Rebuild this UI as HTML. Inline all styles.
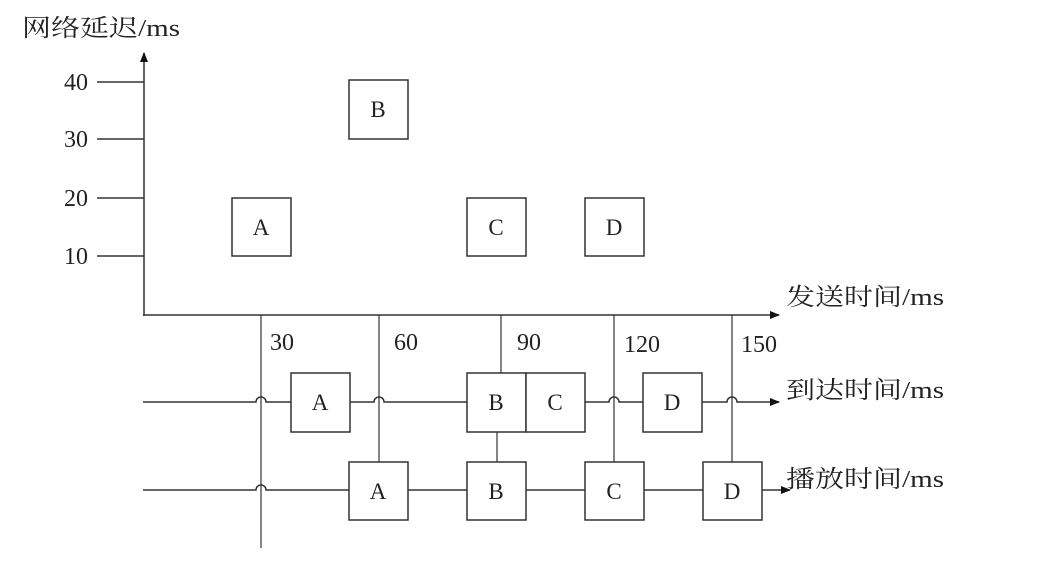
<!DOCTYPE html>
<html><head><meta charset="utf-8"><style>
html,body{margin:0;padding:0;background:#fff;}
svg{display:block}
text{font-family:"Liberation Serif","Noto Serif CJK SC","Noto Sans CJK SC",serif;fill:#222}
</style></head><body>
<svg width="1049" height="576" viewBox="0 0 1049 576" xmlns="http://www.w3.org/2000/svg">
<defs><marker id="ar" markerWidth="10" markerHeight="8" refX="9" refY="4" orient="auto" markerUnits="userSpaceOnUse"><path d="M0,0 L10,4 L0,8 z" fill="#111"/></marker></defs>
<g stroke="#333" stroke-width="1.5" fill="none">
<line x1="144" y1="316" x2="144" y2="53" marker-end="url(#ar)"/>
<line x1="97" y1="82" x2="144" y2="82"/>
<line x1="97" y1="139" x2="144" y2="139"/>
<line x1="97" y1="198" x2="144" y2="198"/>
<line x1="97" y1="256" x2="144" y2="256"/>
<line x1="143" y1="315" x2="779" y2="315" marker-end="url(#ar)"/>
<line x1="261" y1="315" x2="261" y2="548" stroke-width="1.2"/>
<line x1="379" y1="315" x2="379" y2="462" stroke-width="1.2"/>
<line x1="501" y1="315" x2="501" y2="373" stroke-width="1.2"/>
<line x1="497" y1="432" x2="497" y2="462" stroke-width="1.2"/>
<line x1="614" y1="315" x2="614" y2="462" stroke-width="1.2"/>
<line x1="732" y1="315" x2="732" y2="462" stroke-width="1.2"/>
<path d="M143,402 H256 A5,5 0 0 1 266,402 H291 M350,402 H374 A5,5 0 0 1 384,402 H467 M585,402 H609 A5,5 0 0 1 619,402 H643 M702,402 H727 A5,5 0 0 1 737,402 H779" />
<line x1="770" y1="402" x2="779" y2="402" marker-end="url(#ar)"/>
<path d="M143,490 H256 A5,5 0 0 1 266,490 H349 M408,490 H467 M526,490 H585 M644,490 H703"/>
<line x1="762" y1="490" x2="790" y2="490" marker-end="url(#ar)"/>
<rect x="349" y="80" width="59" height="59" fill="#fff"/>
<rect x="232" y="198" width="59" height="58" fill="#fff"/>
<rect x="467" y="198" width="59" height="58" fill="#fff"/>
<rect x="585" y="198" width="59" height="58" fill="#fff"/>
<rect x="291" y="373" width="59" height="59" fill="#fff"/>
<rect x="467" y="373" width="59" height="59" fill="#fff"/>
<rect x="526" y="373" width="59" height="59" fill="#fff"/>
<rect x="643" y="373" width="59" height="59" fill="#fff"/>
<rect x="349" y="462" width="59" height="58" fill="#fff"/>
<rect x="467" y="462" width="59" height="58" fill="#fff"/>
<rect x="585" y="462" width="59" height="58" fill="#fff"/>
<rect x="703" y="462" width="59" height="58" fill="#fff"/>
</g>
<g font-size="23" text-anchor="middle">
<text x="378" y="117">B</text>
<text x="261" y="235">A</text>
<text x="496" y="235">C</text>
<text x="614" y="235">D</text>
<text x="320" y="410">A</text>
<text x="496" y="410">B</text>
<text x="555" y="410">C</text>
<text x="672" y="410">D</text>
<text x="378" y="499">A</text>
<text x="496" y="499">B</text>
<text x="614" y="499">C</text>
<text x="732" y="499">D</text>
</g>
<g font-size="24">
<text x="64" y="90">40</text>
<text x="64" y="147">30</text>
<text x="64" y="206">20</text>
<text x="64" y="264">10</text>
<text x="270" y="350">30</text>
<text x="394" y="350">60</text>
<text x="517" y="350">90</text>
<text x="624" y="352">120</text>
<text x="741" y="352">150</text>
<text x="22" y="36" textLength="158" lengthAdjust="spacingAndGlyphs">网络延迟/ms</text>
<text x="786" y="305" textLength="158" lengthAdjust="spacingAndGlyphs">发送时间/ms</text>
<text x="786" y="398" textLength="158" lengthAdjust="spacingAndGlyphs">到达时间/ms</text>
<text x="786" y="487" textLength="158" lengthAdjust="spacingAndGlyphs">播放时间/ms</text>
</g>
</svg>
</body></html>
